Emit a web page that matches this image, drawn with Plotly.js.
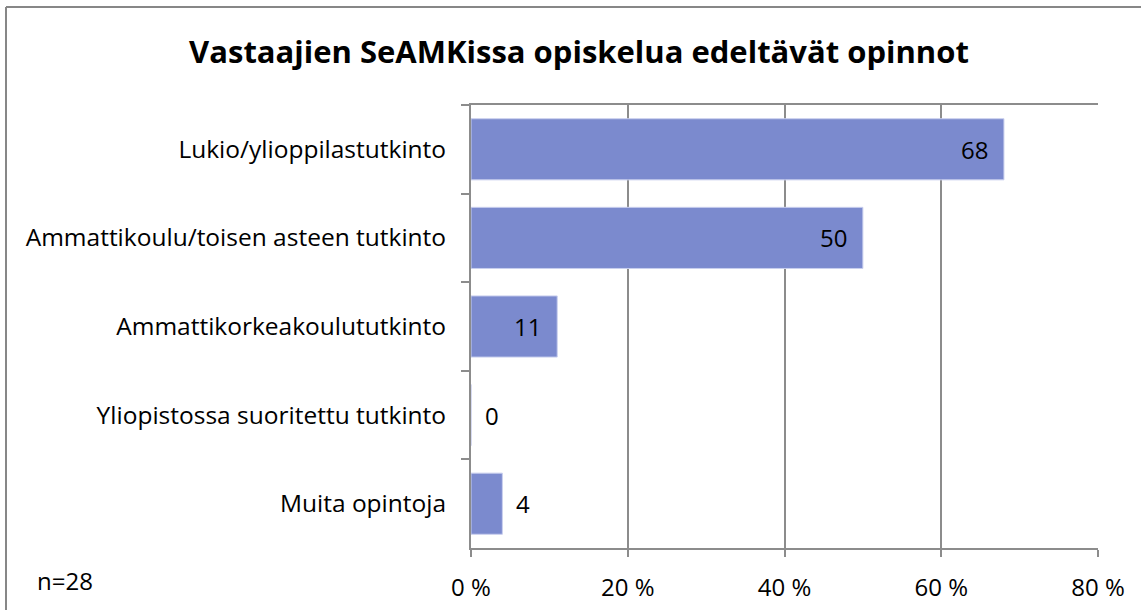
<!DOCTYPE html>
<html>
<head>
<meta charset="utf-8">
<script src="https://cdn.plot.ly/plotly-3.0.1.min.js"></script>
<style>
html,body{margin:0;padding:0;background:#fff;}
#chart{width:1141px;height:610px;}
</style>
</head>
<body>
<div id="chart"></div>
<script>
const categories = [
  "Lukio/ylioppilastutkinto",
  "Ammattikoulu/toisen asteen tutkinto",
  "Ammattikorkeakoulututkinto",
  "Yliopistossa suoritettu tutkinto",
  "Muita opintoja"
];
const values = [68, 50, 11, 0, 4];
const valueLabels = ["68", "50", "11", "0", "4"];
const labelInside = [true, true, true, false, false];
const xTickVals = [0, 20, 40, 60, 80];
const xTickText = ["0 %", "20 %", "40 %", "60 %", "80 %"];
const chartTitle = "Vastaajien SeAMKissa opiskelua edeltävät opinnot";
const noteText = "n=28";

const FONT = "'Open Sans', 'Noto Sans', sans-serif";
const GRID = "#8c8c8c";

const L = 471, R = 1098, T = 105, B = 548, W = 1141, H = 610;
const px = x => (x - L) / (R - L);
const py = y => (B - y) / (B - T);

const trace = {
  type: "bar",
  orientation: "h",
  y: categories,
  x: values,
  marker: {color: "#7b8ace", line: {color: "#c9cfee", width: 1}},
  width: 0.69,
  hoverinfo: "skip"
};

const annotations = categories.map((c, i) => ({
  x: values[i], y: c, xref: "x", yref: "y",
  text: valueLabels[i], showarrow: false,
  xanchor: labelInside[i] ? "right" : "left",
  xshift: labelInside[i] ? -14 : 12,
  font: {family: FONT, size: 24, color: "#000"}
}));
annotations.push({
  x: px(35), y: py(580), xref: "paper", yref: "paper",
  text: noteText, showarrow: false, xanchor: "left", yanchor: "middle",
  font: {family: FONT, size: 24, color: "#000"}
});

const layout = {
  width: W, height: H,
  margin: {l: L, r: W - R, t: T, b: H - B, pad: 0},
  paper_bgcolor: "#fff", plot_bgcolor: "#fff",
  showlegend: false,
  title: {
    text: "<b>" + chartTitle + "</b>",
    x: 579 / W, xref: "container", xanchor: "center",
    y: 1 - 52 / H, yref: "container", yanchor: "middle",
    font: {family: FONT, size: 31, color: "#000"}
  },
  xaxis: {
    range: [0, 80], tickvals: xTickVals, ticktext: xTickText,
    showgrid: true, gridcolor: GRID, gridwidth: 2,
    showline: true, linecolor: GRID, linewidth: 2, mirror: true,
    ticks: "outside", ticklen: 7, tickwidth: 2, tickcolor: GRID,
    ticklabelstandoff: 10,
    zeroline: false, fixedrange: true,
    tickfont: {family: FONT, size: 24, color: "#000"}
  },
  yaxis: {
    type: "category", autorange: "reversed",
    showgrid: false, showline: true, linecolor: GRID, linewidth: 2,
    ticks: "outside", tickson: "boundaries", ticklen: 8, tickwidth: 2, tickcolor: GRID,
    ticklabelstandoff: 18,
    zeroline: false, fixedrange: true,
    tickfont: {family: FONT, size: 24.5, color: "#000"}
  },
  annotations: annotations,
  shapes: [
    {type: "line", xref: "paper", yref: "paper", x0: px(6), x1: px(6), y0: py(640), y1: py(7),
     line: {color: "#878787", width: 2}},
    {type: "line", xref: "paper", yref: "paper", x0: px(6), x1: px(1160), y0: py(7), y1: py(7),
     line: {color: "#878787", width: 2}}
  ]
};

Plotly.newPlot("chart", [trace], layout, {displayModeBar: false, staticPlot: true});
</script>
</body>
</html>
